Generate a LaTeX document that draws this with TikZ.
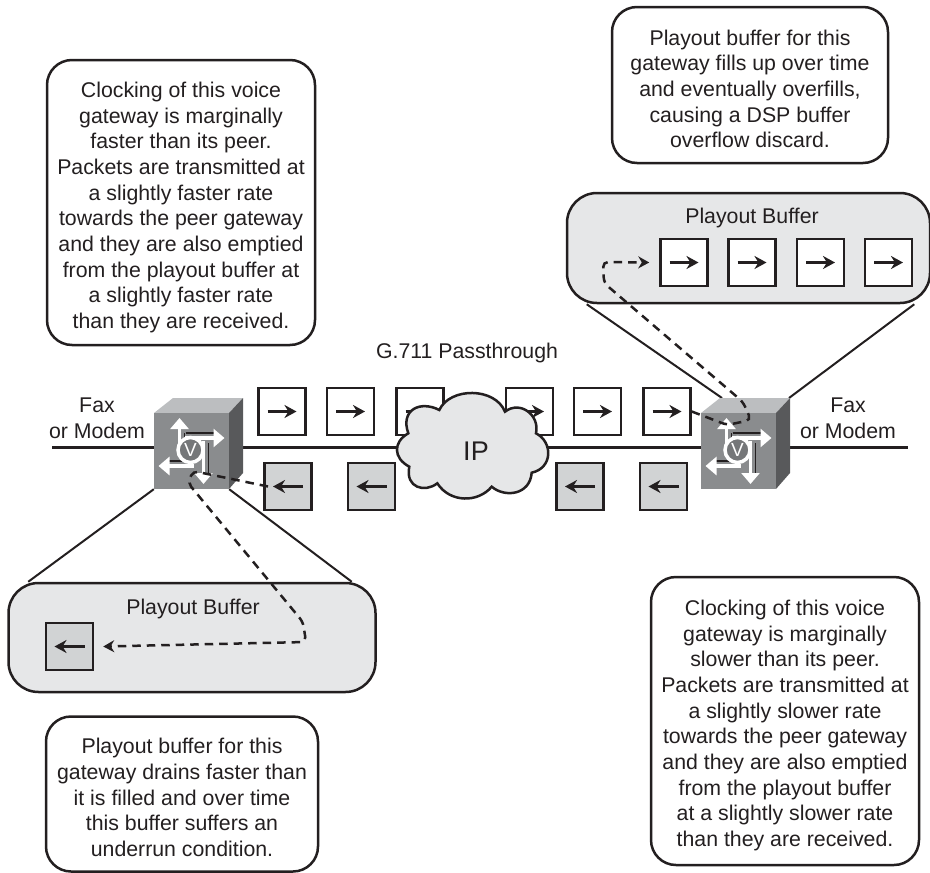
\documentclass[tikz,border=0pt]{standalone}
\usepackage{fontspec}
\setmainfont{Liberation Sans}
\usetikzlibrary{arrows,arrows.meta,positioning}
\definecolor{inkdark}{HTML}{231F20}
\definecolor{bufgray}{HTML}{E6E7E8}
\definecolor{pktgray}{HTML}{D1D3D4}
\definecolor{cubefront}{HTML}{8A8C8E}
\definecolor{cubetop}{HTML}{BCBEC0}
\definecolor{cubeside}{HTML}{58595B}
% voice gateway cube, drawn round the centre of its front face
\newcommand{\voicecube}[2]{
  \begin{scope}[shift={(#1,#2)}]
    \fill[cubetop] (-37.5,-38) -- (-18.5,-53) -- (51.5,-53) -- (37.5,-38) -- cycle;
    \fill[cubeside] (37.5,-38) -- (51.5,-53) -- (51.5,22) -- (37.5,38) -- cycle;
    \fill[cubefront] (-37.5,-38) rectangle (37.5,38);
    \draw[gwshade] (-6,-18) -- (24,-18);
    \draw[gwshade] (17,-8) -- (17,22);
    \draw[gwshade] (-24,10) -- (-10,10);
    \draw[gwshade] (-7,-18) -- (-7,-8);
    \draw[gwarrow] (-12,0) -- (-12,-33);
    \draw[gwarrow] (-7,-13) -- (33,-13);
    \draw[gwarrow] (2,15) -- (-33,15);
    \draw[gwarrow] (12,-10) -- (12,33);
    \draw[white,line width=3.5,fill=cubefront!85!black] (-1,-1) circle (12.5);
    \node[text=white,font=\fontsize{19}{19}\selectfont] at (-1,-1) {V};
  \end{scope}
}
\tikzset{
  textbox/.style={draw=inkdark,line width=2.5,rounded corners=25,fill=white,inner sep=0},
  notetext/.style={text=inkdark,align=center,inner sep=0,font=\fontsize{21.3}{25.67}\selectfont},
  buffer/.style={draw=inkdark,line width=2.5,rounded corners=30,fill=bufgray,inner sep=0},
  packet/.style={rectangle,draw=inkdark,line width=2.5,fill=white,minimum size=47,inner sep=0},
  packetback/.style={packet,fill=pktgray},
  label/.style={text=inkdark,align=center,font=\fontsize{21.3}{26}\selectfont},
  wire/.style={draw=inkdark,line width=2.5},
  flow/.style={draw=inkdark,line width=2.5,-{Stealth[length=12,width=13]}},
  dashflow/.style={draw=inkdark,line width=2.5,dash pattern=on 8.5 off 6,-{Stealth[length=11,width=12]}},
  gwarrow/.style={white,line width=3.5,-{Triangle[length=11,width=18]}},
  gwshade/.style={inkdark,line width=1.2}
}
\begin{document}
\begin{tikzpicture}[x=1pt,y=-1pt]
  \useasboundingbox (0,0) rectangle (930,873);
  % invisible anchors for the two gateways and the cloud
  \node[minimum width=75,minimum height=76,inner sep=0] (gwleft) at (191.5,451) {};
  \node[minimum width=75,minimum height=76,inner sep=0] (gwright) at (738.5,451) {};
  \node[minimum width=150,minimum height=100,inner sep=0] (ip) at (476,451) {};
  \coordinate (wirestart) at (52,447.5);
  \coordinate (wireend) at (908,447.5);
  \coordinate (gwlefthub) at (gwleft.west |- wirestart);
  \coordinate (gwrighthub) at (gwright.east |- wirestart);
  \draw[wire] (wirestart) -- (gwlefthub);
  \draw[wire] (gwlefthub) -- (gwrighthub);
  \draw[wire] (gwrighthub) -- (wireend);
  % buffers
  \node[buffer,minimum width=363,minimum height=110] (bufright) at (748.5,248) {};
  \node[buffer,minimum width=367,minimum height=109] (bufleft) at (192,637.5) {};
  \draw[wire,line width=2] ([xshift=21]bufright.south west) -- (722,398);
  \draw[wire,line width=2] ([xshift=-17]bufright.south east) -- (789,398);
  \draw[wire,line width=2] ([xshift=21]bufleft.north west) -- (gwleft.south west);
  \draw[wire,line width=2] ([xshift=-25]bufleft.north east) -- (gwleft.south east);
  % packets on the way across
  \foreach \name/\px in {a/282,b/350.5,c/420,d/529.5,e/597.5,f/667}
  {
    \node[packet] (out\name) at (\px,411.5) {};
    \draw[flow] ([xshift=-14.5]out\name.center) -- ([xshift=14.5]out\name.center);
  }
  \foreach \name/\px in {a/288,b/371.5,c/580,d/663.5}
  {
    \node[packetback] (back\name) at (\px,486.5) {};
    \draw[flow] ([xshift=15]back\name.center) -- ([xshift=-15]back\name.center);
  }
  % packets held in the buffers
  \foreach \name/\px in {a/684,b/752,c/820.5,d/888.5}
  {
    \node[packet] (held\name) at (\px,262.5) {};
    \draw[flow] ([xshift=-14.5]held\name.center) -- ([xshift=14.5]held\name.center);
  }
  \node[packetback] (heldback) at (69.5,646.5) {};
  \draw[flow] ([xshift=15]heldback.center) -- ([xshift=-15]heldback.center);
  % cloud
  \draw[draw=inkdark,line width=2.5,fill=bufgray]
    (439.3,410) .. controls (450,387) and (495,387) .. (505,411.7)
    .. controls (520,400) and (540,415) .. (536,433.3)
    .. controls (553,442) and (553,468) .. (531.7,472.7)
    .. controls (530,495) and (505,498) .. (491.7,486.7)
    .. controls (478,503) and (450,503) .. (437.3,483.3)
    .. controls (425,493) and (405,488) .. (409.3,466.7)
    .. controls (393,458) and (393,442) .. (408.3,433.3)
    .. controls (400,410) and (420,400) .. cycle;
  \node[text=inkdark,font=\fontsize{27}{27}\selectfont] at (ip.center) {IP};
  \voicecube{191.5}{451}
  \voicecube{738.5}{451}
  % the path a packet takes through each gateway
  \draw[dashflow,rounded corners=5] ([xshift=-20]backa.center) -- (193,471) -- (188,483)
    -- (303,622) -- (306,642) -- ([xshift=9]heldback.east);
  \draw[dashflow,rounded corners=5] (outf.east) -- (727,425) -- (751,420) -- (743,402)
    -- (604,283) -- (603,262) -- ([xshift=-10]helda.west);
  % texts
  \node[label] (faxleft) at (97,418) {Fax\\or Modem};
  \node[label] (faxright) at (848,418) {Fax\\or Modem};
  \node[label] (passthrough) at (467,353) {G.711 Passthrough};
  \node[label] (buflabelright) at (752,218) {Playout Buffer};
  \node[label] (buflabelleft) at (193,609) {Playout Buffer};
  \node[textbox,minimum width=268,minimum height=285] (noteclockfast) at (181,202.5) {};
  \node[notetext] at ([yshift=-5]noteclockfast.center) {Clocking of this voice\\gateway is marginally\\faster than its peer.\\Packets are transmitted at\\a slightly faster rate\\towards the peer gateway\\and they are also emptied\\from the playout buffer at\\a slightly faster rate\\than they are received.};
  \node[textbox,minimum width=276,minimum height=156] (noteoverflow) at (750,85) {};
  \node[notetext] at ([yshift=-4]noteoverflow.center) {Playout buffer for this\\gateway fills up over time\\and eventually overfills,\\causing a DSP buffer\\overflow discard.};
  \node[textbox,minimum width=272,minimum height=155] (noteunderrun) at (182,794) {};
  \node[notetext] at ([yshift=-3.5]noteunderrun.center) {Playout buffer for this\\gateway drains faster than\\it is filled and over time\\this buffer suffers an\\underrun condition.};
  \node[textbox,minimum width=268,minimum height=288] (noteclockslow) at (785,721) {};
  \node[notetext] at ([yshift=-4.5]noteclockslow.center) {Clocking of this voice\\gateway is marginally\\slower than its peer.\\Packets are transmitted at\\a slightly slower rate\\towards the peer gateway\\and they are also emptied\\from the playout buffer\\at a slightly slower rate\\than they are received.};
\end{tikzpicture}
\end{document}
